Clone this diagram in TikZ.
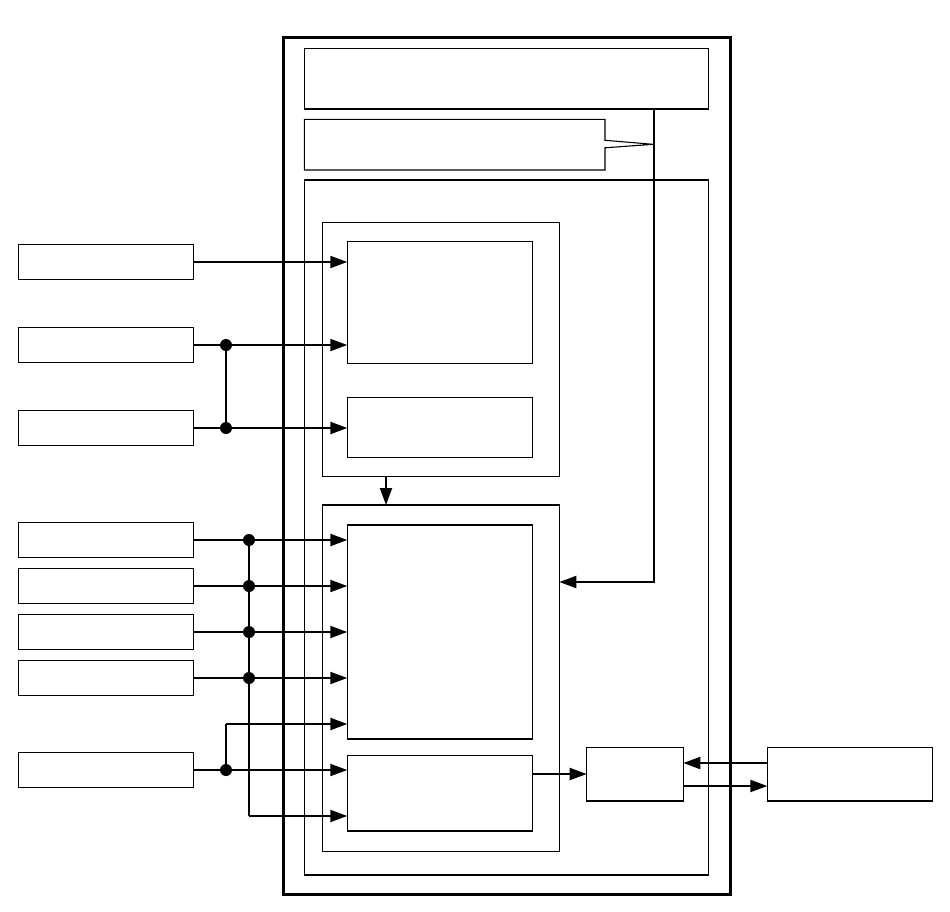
\documentclass[tikz,border=0pt]{standalone}
\usetikzlibrary{arrows.meta,fit}
\begin{document}
\begin{tikzpicture}[x=1pt,y=-1pt,
  box/.style={draw, line width=1.2pt, inner sep=0pt, outer sep=0pt},
  thickbox/.style={draw, line width=3pt, inner sep=0pt, outer sep=0pt},
  conn/.style={line width=2pt, -{Triangle[length=17pt,width=12pt]}},
  wire/.style={line width=2pt},
  dotn/.style={circle, fill, inner sep=0pt, minimum size=12pt}]
\useasboundingbox (0,0) rectangle (950,911);
% frames
\node[thickbox, fit={(283,37)(730,894)}] (outer) {};
\node[box, fit={(304.3,48.7)(708.3,109)}] (top) {};
\node[box, fit={(304.3,180)(708.3,875)}] (inner) {};
\node[box, fit={(322.3,222.7)(559.3,476.7)}] (G1) {};
\node[box, fit={(347.3,241.7)(532.3,363.3)}] (A) {};
\node[box, fit={(347.3,397.3)(532.3,457.3)}] (B) {};
\node[box, fit={(322.3,505)(559.3,851.3)}] (G2) {};
\node[box, fit={(347.3,525)(532.3,739)}] (C) {};
\node[box, fit={(347.3,755.7)(532.3,831)}] (D) {};
\node[box, fit={(586.7,747.3)(683.3,801)}] (S) {};
\node[box, fit={(767.3,747.3)(932.3,801)}] (R) {};
% callout box
\coordinate (tip) at (653,144.3);
\draw[line width=1.1pt, line join=miter]
  (304.3,119.3) -- (605,119.3) -- (605,140.3) -- (tip) -- (605,147.8)
  -- (605,170) -- (304.3,170) -- cycle;
% left boxes
\foreach \n/\y in {L1/262,L2/345,L3/428,L4/540,L5/586,L6/632,L7/678,L8/770}
  \node[box, minimum width=175pt, minimum height=34.5pt] (\n) at (105.8,\y) {};
% dots
\node[dotn] (d2) at (226,345) {};
\node[dotn] (d3) at (226,428) {};
\node[dotn] (d4) at (249,540) {};
\node[dotn] (d5) at (249,586) {};
\node[dotn] (d6) at (249,632) {};
\node[dotn] (d7) at (249,678) {};
\node[dotn] (d8) at (226,770) {};
\coordinate (b8) at (226,724);
\coordinate (b4) at (249,816);
\coordinate (corner) at (654,582);
% connectors
\draw[conn] (L1.east) -- (L1.east -| A.west);
\draw[wire] (L2.east) -- (d2.center);
\draw[conn] (d2.center) -- (d2 -| A.west);
\draw[wire] (L3.east) -- (d3.center);
\draw[conn] (d3.center) -- (d3 -| B.west);
\draw[wire] (d2.center) -- (d3.center);
\foreach \i in {4,5,6,7}{
  \draw[wire] (L\i.east) -- (d\i.center);
  \draw[conn] (d\i.center) -- (d\i -| C.west);
}
\draw[wire] (d4.center) -- (b4);
\draw[conn] (b4) -- (b4 -| D.west);
\draw[wire] (L8.east) -- (d8.center);
\draw[conn] (d8.center) -- (d8 -| D.west);
\draw[wire] (d8.center) -- (b8);
\draw[conn] (b8) -- (b8 -| C.west);
\draw[conn] (G1.south -| 386,0) -- (G2.north -| 386,0);
\draw[conn] (top.south -| corner) -- (corner) -- (corner -| G2.east);
\draw[conn] (D.east |- 0,774) -- (S.west |- 0,774);
\draw[conn] (R.west |- 0,763) -- (S.east |- 0,763);
\draw[conn] (S.east |- 0,786) -- (R.west |- 0,786);
\end{tikzpicture}
\end{document}
